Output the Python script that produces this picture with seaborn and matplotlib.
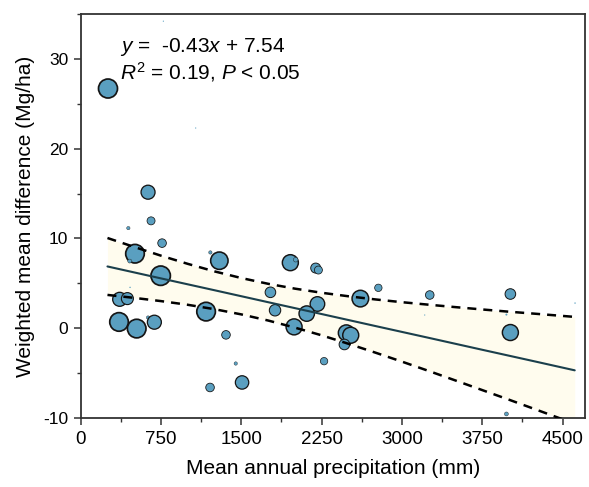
import numpy as np
import pandas as pd
import matplotlib
matplotlib.use("Agg")
import matplotlib.pyplot as plt
from matplotlib.ticker import MultipleLocator
import seaborn as sns

# ---- data ----
precip = [255, 772, 1074, 629, 657, 445, 760, 507, 458, 1211, 1295, 747, 461,
          364, 436, 358, 523, 629, 688, 1171, 1357, 1448, 1208, 1507,
          1958, 2008, 2195, 2220, 2780, 1772, 2612, 1815, 2211, 2111, 1993,
          2481, 2522, 2463, 2273, 3213, 3260, 4013, 3976, 4617, 4013, 3976]
wmd = [26.7, 34.2, 22.3, 15.15, 11.96, 11.15, 9.48, 8.3, 7.48, 8.44, 7.52, 5.85, 4.55,
       3.22, 3.3, 0.7, -0.04, 1.19, 0.67, 1.85, -0.74, -3.93, -6.6, -6.04,
       7.3, 7.63, 6.7, 6.48, 4.5, 4.0, 3.3, 2.0, 2.7, 1.63, 0.15,
       -0.52, -0.78, -1.81, -3.67, 1.47, 3.7, 3.81, 1.52, 2.8, -0.48, -9.55]
# relative study weight (marker radius scale)
weight = [9.5, 0.6, 0.6, 7, 4, 1.7, 4.3, 9.3, 2, 1.7, 8.7, 9.7, 0.7,
          7, 6, 9.3, 9.3, 1.7, 7, 9.3, 4.3, 1.7, 4.3, 6.7,
          8, 2.3, 5, 4, 3.7, 5.3, 8.3, 5.7, 7.3, 7.7, 8,
          8, 8, 5.3, 3.7, 0.6, 4.3, 5.3, 1, 0.7, 8, 2]

# fitted line and its 95% confidence band
fit_x = [250, 500, 750, 1000, 1250, 1500, 1750, 2000, 2250, 2500, 2750,
         3000, 3250, 3500, 3750, 4000, 4250, 4614]
fit_y = [6.88, 6.215, 5.55, 4.89, 4.23, 3.565, 2.90, 2.24, 1.58, 0.915, 0.25,
         -0.41, -1.07, -1.735, -2.40, -3.06, -3.72, -4.69]
ci_upper = [10.05, 9.05, 8.08, 7.17, 6.33, 5.59, 4.95, 4.41, 3.95, 3.56, 3.21,
            2.90, 2.62, 2.35, 2.09, 1.84, 1.61, 1.26]
ci_lower = [3.71, 3.38, 3.02, 2.61, 2.12, 1.54, 0.86, 0.07, -0.79, -1.73, -2.71,
            -3.72, -4.76, -5.82, -6.89, -7.96, -9.05, -10.64]

x_ticks = [0, 750, 1500, 2250, 3000, 3750, 4500]
y_ticks = [-10, 0, 10, 20, 30]

eq_line1 = r"$\it{y}$ =  -0.43$\it{x}$ + 7.54"
eq_line2 = r"$\it{R}^{2}$ = 0.19, $\it{P}$ < 0.05"

# ---- styling ----
sns.set_theme(style="ticks")
plt.rcParams["font.family"] = ["Liberation Sans", "DejaVu Sans"]
plt.rcParams["mathtext.fontset"] = "custom"
plt.rcParams["mathtext.rm"] = "Liberation Sans"
plt.rcParams["mathtext.it"] = "Liberation Sans:italic"
plt.rcParams["axes.unicode_minus"] = False
for key in ("text.color", "axes.labelcolor", "xtick.labelcolor", "ytick.labelcolor"):
    plt.rcParams[key] = "black"

fig = plt.figure(figsize=(5.89, 4.87), dpi=100)
ax = fig.add_axes([80.7 / 589, (487 - 418) / 487, (585 - 80.7) / 589, (418 - 14) / 487])

df = pd.DataFrame({"precip": precip, "wmd": wmd, "weight": weight})
df["area"] = 2.0736 * df["weight"] ** 2
fit = pd.DataFrame({"x": fit_x, "y": fit_y, "lo": ci_lower, "hi": ci_upper})

ax.fill_between(fit["x"], fit["lo"], fit["hi"], color="#fffcee", zorder=1, linewidth=0)

amin, amax = df["area"].min(), df["area"].max()
sns.scatterplot(data=df, x="precip", y="wmd", size="area", sizes=(amin, amax),
                size_norm=(amin, amax), color="#5a9fc0", edgecolor="#151515",
                alpha=1, legend=False, ax=ax, zorder=2)
pts = ax.collections[-1]
lw = np.clip(df["weight"].to_numpy() / 7.5, 0.25, 1.25)
lw[df["weight"].to_numpy() < 1.2] = 0
pts.set_linewidths(lw)

sns.lineplot(data=fit, x="x", y="y", color="#1b3f4c", linewidth=1.5, ax=ax, zorder=3)
for col in ("hi", "lo"):
    sns.lineplot(data=fit, x="x", y=col, color="black", linewidth=1.8,
                 dashes=False, ax=ax, zorder=3)
for line in ax.lines[-2:]:
    line.set_dashes((3.6, 2.8))

ax.text(364, 30.8, eq_line1, fontsize=15, va="baseline", ha="left", zorder=4)
ax.text(364, 27.7, eq_line2, fontsize=15, va="baseline", ha="left", zorder=4)

ax.set_xlim(0, 4710)
ax.set_ylim(-10, 35)
ax.set_xticks(x_ticks)
ax.set_yticks(y_ticks)
ax.xaxis.set_minor_locator(MultipleLocator(375))
ax.yaxis.set_minor_locator(MultipleLocator(5))
ax.tick_params(axis="both", which="major", direction="out", length=5, width=1.1,
               color="#333333", pad=4)
ax.tick_params(axis="both", which="minor", direction="out", length=3, width=1.0,
               color="#333333")
ax.tick_params(axis="x", labelsize=13.5)
ax.tick_params(axis="y", labelsize=12.5)
for s in ax.spines.values():
    s.set_visible(True)
    s.set_color("#333333")
    s.set_linewidth(1.3)

ax.set_xlabel("Mean annual precipitation (mm)", fontsize=15, labelpad=8)
ax.set_ylabel("Weighted mean difference (Mg/ha)", fontsize=15, labelpad=6)

fig.savefig("out.png", dpi=100)
